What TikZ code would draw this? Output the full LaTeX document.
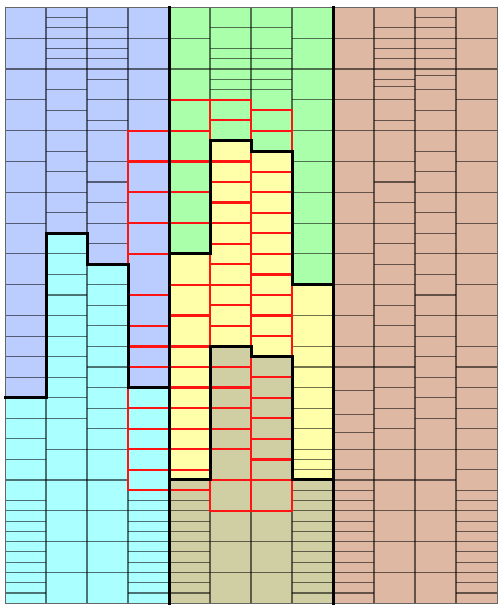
\documentclass[tikz,border=0pt]{standalone}
\definecolor{cblue}{RGB}{187,204,255}
\definecolor{ccyan}{RGB}{170,255,255}
\definecolor{cgreen}{RGB}{170,255,170}
\definecolor{cyellow}{RGB}{255,255,170}
\definecolor{ctan}{RGB}{208,206,163}
\definecolor{csalmon}{RGB}{222,184,162}
\definecolor{cred}{RGB}{255,20,20}
\tikzset{
  thinl/.style={draw=black, draw opacity=0.55, line width=1.1pt},
  redl/.style={draw=cred, line width=2.2pt, line cap=rect},
  thickl/.style={draw=black, line width=3pt, line join=miter, line cap=rect},
  framel/.style={draw=black!60, line width=1pt}
}
\begin{document}
\begin{tikzpicture}
\useasboundingbox (0pt,0pt) rectangle (498pt,-605pt);
\begin{scope}[shift={(5pt,-7.3pt)}, x=41pt, y=-10.2759pt]
% fills
\fill[ccyan] (0,0) rectangle (4,58);
\fill[cblue] (0,0) -- (4,0) -- (4,37) -- (3,37) -- (3,25) -- (2,25) -- (2,22) -- (1,22) -- (1,38) -- (0,38) -- cycle;
\fill[ctan] (4,0) rectangle (8,58);
\fill[cyellow] (4,0) -- (8,0) -- (8,46) -- (7,46) -- (7,34) -- (6,34) -- (6,33) -- (5,33) -- (5,46) -- (4,46) -- cycle;
\fill[cgreen] (4,0) -- (8,0) -- (8,27) -- (7,27) -- (7,14) -- (6,14) -- (6,13) -- (5,13) -- (5,24) -- (4,24) -- cycle;
\fill[csalmon] (8,0) rectangle (12,58);
% thin horizontal lines
\foreach \k in {3,6,9,12,15,18,21,24,27,30,32,34,36,38,40,42,44,46,48,49,50,51,52,53,54,55,56,57} \draw[thinl] (0,\k) -- (1,\k);
\foreach \k in {1,2,3,4,5,6,8,10,12,14,16,18,20,22,24,26,28,30,32,34,36,38,40,43,46,49,52,55} \draw[thinl] (1,\k) -- (2,\k);
\foreach \k in {2,3,4,5,6,7,9,11,12,15,17,19,21,23,25,27,29,31,33,35,37,39,41,43,46,49,52,55} \draw[thinl] (2,\k) -- (3,\k);
\foreach \k in {3,6,9,48,49,50,51,52,53,54,55,56,57} \draw[thinl] (3,\k) -- (4,\k);
\foreach \k in {3,6,48,49,50,51,52,53,54,55,56,57} \draw[thinl] (4,\k) -- (5,\k);
\foreach \k in {2,4,5,6,7,8,52,55} \draw[thinl] (5,\k) -- (6,\k);
\foreach \k in {2,4,5,6,7,8,52,55} \draw[thinl] (6,\k) -- (7,\k);
\foreach \k in {3,6,9,12,15,18,21,24,27,30,33,35,37,39,41,43,44,45,46,47,48,49,50,51,52,53,54,55,56,57} \draw[thinl] (7,\k) -- (8,\k);
\foreach \k in {3,6,9,12,15,18,21,24,27,30,33,35,37.3,39.6,41.4,43,45,46,47,48,49,50,51,52,53,54,55,56,57} \draw[thinl] (8,\k) -- (9,\k);
\foreach \k in {2,3,4,5,6,7,7.67,9,11,12,15,17,19,21,23,25,27,29,31,33,35,37,39,41,43,46,49,52,55} \draw[thinl] (9,\k) -- (10,\k);
\foreach \k in {1,2,3,4,5,6,6.67,8,10,12,14,16,18,20,22,24,26,28,30,32,34,36,38,40,43,46,49,52,55} \draw[thinl] (10,\k) -- (11,\k);
\foreach \k in {3,6,9,12,15,18,21,24,27,30,33,35,37,39,41,43,45,47,48,49,50,51,52,53,54,55,56,57} \draw[thinl] (11,\k) -- (12,\k);
% thin verticals
\foreach \c in {1,2,3,5,6,7,9,10,11} \draw[thinl] (\c,0) -- (\c,58);
\draw[framel] (0,0) rectangle (12,58);
% red lines
\foreach \k in {12,15,18,21,24,28,31,33,35,37,39,41,43,45,47} \draw[redl] (3,\k) -- (4,\k);
\foreach \k in {9,12,15,18,21,24,27,30,33,35,37,39,41,43,45,46,47} \draw[redl] (4,\k) -- (5,\k);
\foreach \k in {9,11,13,15,17,19,21,23,25,27,29,31,33,35,37,39,41,43,46,49} \draw[redl] (5,\k) -- (6,\k);
\foreach \k in {10,12,14,16,18,20,22,24,26,28,30,32,34,36,38,40,42,44,46,49} \draw[redl] (6,\k) -- (7,\k);
\draw[redl] (3,12) -- (3,47);
\draw[redl] (5,9) -- (5,49);
\draw[redl] (6,9) -- (6,49);
\draw[redl] (7,10) -- (7,49);
% thick black lines
\draw[thickl] (4,0) -- (4,58);
\draw[thickl] (8,0) -- (8,58);
\draw[thickl] (0,38) -- (1,38) -- (1,22) -- (2,22) -- (2,25) -- (3,25) -- (3,37) -- (4,37);
\draw[thickl] (4,24) -- (5,24) -- (5,13) -- (6,13) -- (6,14) -- (7,14) -- (7,27) -- (8,27);
\draw[thickl] (4,46) -- (5,46) -- (5,33) -- (6,33) -- (6,34) -- (7,34) -- (7,46) -- (8,46);
\end{scope}
\end{tikzpicture}
\end{document}
